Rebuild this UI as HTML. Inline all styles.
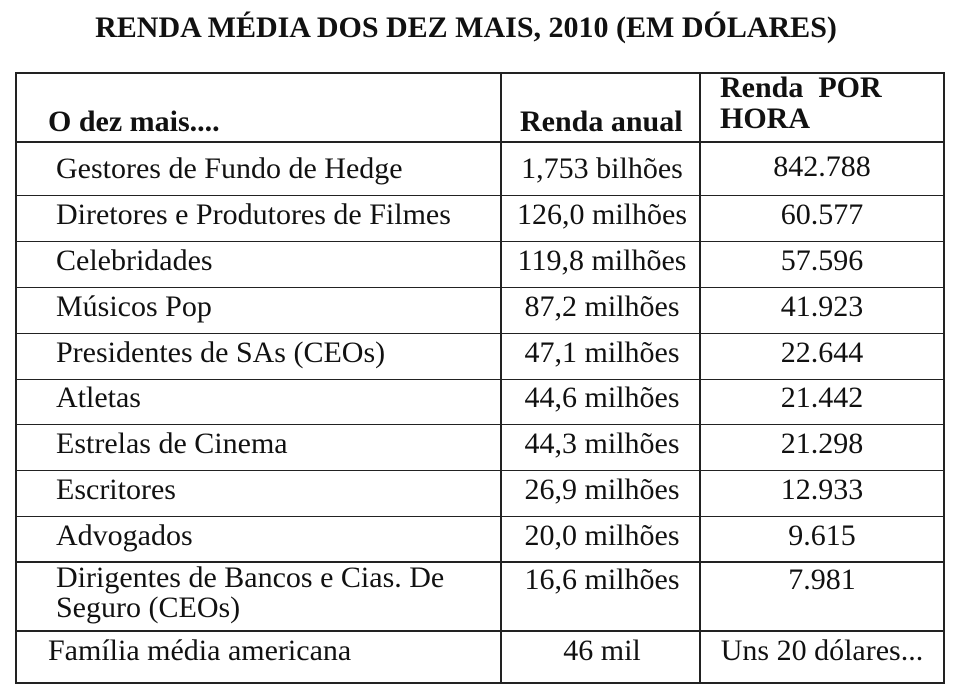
<!DOCTYPE html>
<html><head><meta charset="utf-8"><style>
body{margin:0;width:960px;height:700px;background:#fff;position:relative;font-family:"Liberation Serif","Times New Roman",Times,"DejaVu Serif",serif;color:#111;overflow:hidden}
.t{position:absolute;white-space:nowrap}
.h{position:absolute;background:#222;height:2px}
.v{position:absolute;background:#222;width:2px}
.d{font-size:30px}
.c{transform:translateX(-50%)}
.b{font-weight:bold}
</style></head><body>
<div class="t b c" style="left:466px;top:11px;font-size:30px">RENDA MÉDIA DOS DEZ MAIS, 2010 (EM DÓLARES)</div>
<div class="h" style="left:15px;width:930px;top:72px"></div>
<div class="h" style="left:15px;width:930px;top:141px"></div>
<div class="h" style="left:15px;width:930px;top:195px;height:1px"></div>
<div class="h" style="left:15px;width:930px;top:241px;height:1px"></div>
<div class="h" style="left:15px;width:930px;top:287px;height:1px"></div>
<div class="h" style="left:15px;width:930px;top:333px;height:1px"></div>
<div class="h" style="left:15px;width:930px;top:379px;height:1px"></div>
<div class="h" style="left:15px;width:930px;top:424px;height:1px"></div>
<div class="h" style="left:15px;width:930px;top:470px;height:1px"></div>
<div class="h" style="left:15px;width:930px;top:516px;height:1px"></div>
<div class="h" style="left:15px;width:930px;top:561px"></div>
<div class="h" style="left:15px;width:930px;top:630px"></div>
<div class="h" style="left:15px;width:930px;top:682px"></div>
<div class="v" style="left:15px;top:72px;height:612px"></div>
<div class="v" style="left:500px;top:72px;height:612px"></div>
<div class="v" style="left:699px;top:72px;height:612px"></div>
<div class="v" style="left:943px;top:72px;height:612px"></div>
<div class="t b" style="left:48px;top:105px;font-size:30px">O dez mais....</div>
<div class="t b" style="left:520px;top:105px;font-size:30px">Renda anual</div>
<div class="t b" style="left:720px;top:72px;font-size:30px;line-height:31px">Renda&nbsp; POR<br>HORA</div>
<div class="t d" style="left:56px;top:152px">Gestores de Fundo de Hedge</div>
<div class="t d" style="left:56px;top:198px">Diretores e Produtores de Filmes</div>
<div class="t d" style="left:56px;top:244px">Celebridades</div>
<div class="t d" style="left:56px;top:290px">Músicos Pop</div>
<div class="t d" style="left:56px;top:336px">Presidentes de SAs (CEOs)</div>
<div class="t d" style="left:56px;top:381px">Atletas</div>
<div class="t d" style="left:56px;top:427px">Estrelas de Cinema</div>
<div class="t d" style="left:56px;top:473px">Escritores</div>
<div class="t d" style="left:56px;top:519px">Advogados</div>
<div class="t d" style="left:56px;top:563px;line-height:30px">Dirigentes de Bancos e Cias. De<br>Seguro (CEOs)</div>
<div class="t d" style="left:48px;top:634px">Família média americana</div>
<div class="t d c" style="left:602px;top:152px">1,753 bilhões</div>
<div class="t d c" style="left:602px;top:198px">126,0 milhões</div>
<div class="t d c" style="left:602px;top:244px">119,8 milhões</div>
<div class="t d c" style="left:602px;top:290px">87,2 milhões</div>
<div class="t d c" style="left:602px;top:336px">47,1 milhões</div>
<div class="t d c" style="left:602px;top:381px">44,6 milhões</div>
<div class="t d c" style="left:602px;top:427px">44,3 milhões</div>
<div class="t d c" style="left:602px;top:473px">26,9 milhões</div>
<div class="t d c" style="left:602px;top:519px">20,0 milhões</div>
<div class="t d c" style="left:602px;top:563px">16,6 milhões</div>
<div class="t d c" style="left:602px;top:634px">46 mil</div>
<div class="t d c" style="left:822px;top:150px">842.788</div>
<div class="t d c" style="left:822px;top:198px">60.577</div>
<div class="t d c" style="left:822px;top:244px">57.596</div>
<div class="t d c" style="left:822px;top:290px">41.923</div>
<div class="t d c" style="left:822px;top:336px">22.644</div>
<div class="t d c" style="left:822px;top:381px">21.442</div>
<div class="t d c" style="left:822px;top:427px">21.298</div>
<div class="t d c" style="left:822px;top:473px">12.933</div>
<div class="t d c" style="left:822px;top:519px">9.615</div>
<div class="t d c" style="left:822px;top:563px">7.981</div>
<div class="t d c" style="left:822px;top:634px">Uns 20 dólares...</div>
</body></html>
